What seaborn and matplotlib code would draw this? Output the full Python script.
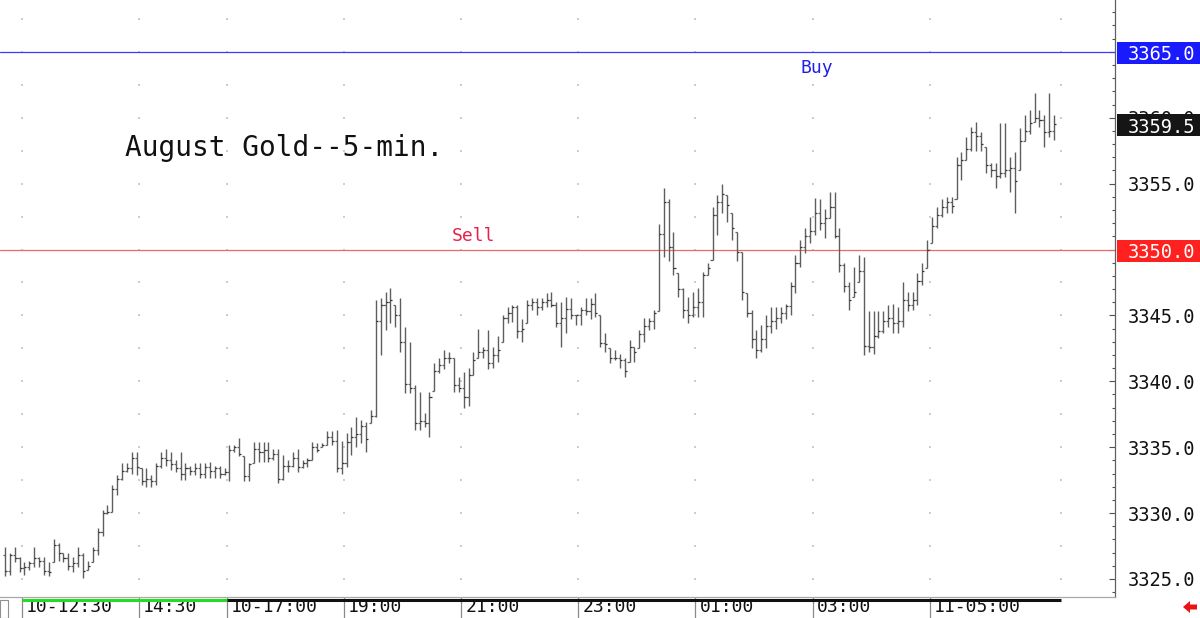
import numpy as np
import matplotlib
matplotlib.use("Agg")
import matplotlib.pyplot as plt
import matplotlib.transforms as mtransforms
from matplotlib.patches import Rectangle, Polygon
from matplotlib.ticker import MultipleLocator, FormatStrFormatter
import seaborn as sns

# 5-minute OHLC bars (216 bars, 12:10 -> 07:05)
high = [
    3327.4, 3327.0, 3327.4, 3326.7, 3326.3, 3326.4, 3327.4, 3326.7, 3326.7, 3326.3,
    3328.0, 3327.7, 3327.0, 3327.0, 3326.7, 3327.4, 3327.0, 3326.4, 3327.4, 3328.9,
    3330.2, 3330.6, 3332.1, 3332.9, 3333.8, 3333.8, 3334.6, 3334.6, 3333.4, 3333.4,
    3332.9, 3333.8, 3334.6, 3334.9, 3334.6, 3334.0, 3334.6, 3333.8, 3333.6, 3333.8,
    3333.8, 3333.8, 3333.9, 3333.6, 3333.6, 3333.4, 3335.2, 3335.2, 3335.7, 3334.3,
    3333.8, 3335.4, 3335.4, 3335.4, 3335.4, 3334.9, 3334.9, 3334.4, 3334.0, 3334.6,
    3334.9, 3334.0, 3334.2, 3335.4, 3335.3, 3335.3, 3336.2, 3336.2, 3336.3, 3335.5,
    3336.1, 3336.5, 3337.3, 3337.1, 3336.9, 3337.8, 3346.2, 3346.3, 3346.8, 3347.1,
    3345.8, 3346.3, 3344.1, 3343.0, 3339.7, 3339.2, 3337.6, 3339.2, 3341.4, 3341.8,
    3342.4, 3342.2, 3341.8, 3340.3, 3340.7, 3341.0, 3342.2, 3344.0, 3342.6, 3343.9,
    3342.6, 3343.4, 3345.0, 3345.6, 3345.8, 3345.8, 3344.7, 3346.2, 3346.3, 3346.3,
    3346.3, 3346.7, 3346.8, 3346.0, 3346.0, 3346.4, 3346.3, 3345.0, 3345.6, 3346.3,
    3346.3, 3346.7, 3345.0, 3343.7, 3342.5, 3342.4, 3342.1, 3341.8, 3343.1, 3342.6,
    3343.9, 3344.8, 3344.8, 3345.4, 3351.9, 3354.7, 3353.8, 3351.3, 3348.2, 3347.1,
    3346.4, 3346.8, 3347.1, 3348.3, 3349.0, 3353.2, 3354.1, 3355.0, 3354.1, 3352.8,
    3351.3, 3349.8, 3346.7, 3345.4, 3343.9, 3344.3, 3345.0, 3345.6, 3345.6, 3345.6,
    3345.9, 3347.5, 3349.6, 3350.7, 3351.6, 3352.5, 3353.9, 3353.8, 3353.1, 3354.4,
    3354.4, 3351.6, 3349.0, 3347.5, 3348.7, 3349.6, 3349.4, 3345.3, 3345.3, 3345.3,
    3345.3, 3345.8, 3345.9, 3345.6, 3347.5, 3346.8, 3346.8, 3348.2, 3349.0, 3350.7,
    3352.5, 3353.2, 3353.8, 3354.0, 3354.0, 3357.0, 3357.4, 3358.5, 3359.3, 3359.7,
    3358.9, 3357.8, 3356.6, 3356.6, 3359.6, 3359.6, 3357.0, 3357.4, 3359.2, 3360.2,
    3360.6, 3361.9, 3360.6, 3360.2, 3361.9, 3360.2]

low = [
    3325.2, 3325.3, 3326.3, 3325.5, 3325.3, 3325.7, 3325.9, 3325.9, 3325.3, 3325.2,
    3326.3, 3326.4, 3326.3, 3325.7, 3325.5, 3325.9, 3325.1, 3325.7, 3326.3, 3326.8,
    3328.3, 3329.9, 3330.1, 3331.4, 3332.5, 3333.1, 3333.0, 3332.9, 3332.1, 3332.0,
    3332.0, 3332.1, 3333.4, 3333.6, 3333.3, 3333.1, 3332.5, 3332.5, 3332.9, 3332.9,
    3332.7, 3332.7, 3332.7, 3332.7, 3332.7, 3332.9, 3332.4, 3334.6, 3334.3, 3332.4,
    3332.4, 3333.8, 3333.9, 3333.9, 3333.9, 3334.0, 3332.3, 3332.5, 3333.1, 3333.5,
    3333.1, 3333.4, 3333.5, 3334.0, 3334.6, 3335.0, 3335.2, 3335.2, 3333.1, 3333.0,
    3333.5, 3334.4, 3335.0, 3335.3, 3334.6, 3336.8, 3337.3, 3342.0, 3343.9, 3344.4,
    3344.1, 3342.2, 3339.1, 3339.1, 3336.3, 3336.3, 3336.5, 3335.8, 3339.3, 3340.6,
    3340.9, 3341.4, 3339.2, 3339.2, 3338.0, 3338.1, 3340.5, 3341.8, 3341.8, 3340.9,
    3341.0, 3341.5, 3343.0, 3344.4, 3344.5, 3343.3, 3343.0, 3344.4, 3345.4, 3345.0,
    3345.4, 3345.6, 3345.6, 3344.1, 3342.6, 3343.7, 3344.7, 3344.3, 3344.3, 3345.0,
    3344.7, 3344.9, 3342.6, 3342.2, 3341.4, 3341.6, 3341.0, 3340.3, 3341.5, 3341.5,
    3342.5, 3343.0, 3343.9, 3344.0, 3345.3, 3349.4, 3349.1, 3348.1, 3346.4, 3344.8,
    3344.4, 3344.9, 3344.9, 3344.9, 3348.1, 3349.2, 3351.1, 3352.8, 3352.1, 3350.7,
    3349.1, 3346.2, 3344.9, 3342.5, 3341.8, 3342.2, 3342.5, 3343.7, 3344.0, 3344.4,
    3344.7, 3345.0, 3346.7, 3348.7, 3349.7, 3350.5, 3351.1, 3351.5, 3350.9, 3352.4,
    3350.9, 3348.3, 3346.8, 3345.4, 3346.4, 3347.5, 3342.0, 3342.2, 3342.1, 3343.3,
    3343.7, 3344.1, 3343.7, 3343.7, 3344.1, 3345.3, 3345.4, 3345.8, 3347.3, 3348.6,
    3350.5, 3351.6, 3352.5, 3352.8, 3352.8, 3353.8, 3355.3, 3356.8, 3357.5, 3357.5,
    3357.5, 3355.8, 3355.5, 3354.7, 3355.4, 3355.5, 3354.4, 3352.8, 3356.0, 3358.2,
    3358.8, 3359.7, 3359.3, 3357.8, 3358.5, 3358.3]

close = [
    3325.6, 3326.8, 3326.6, 3325.8, 3325.9, 3326.2, 3326.6, 3326.4, 3325.6, 3325.5,
    3327.6, 3327.0, 3326.6, 3326.0, 3326.2, 3326.8, 3325.6, 3326.0, 3327.2, 3328.6,
    3330.0, 3330.1, 3331.8, 3332.6, 3333.2, 3333.4, 3334.2, 3333.5, 3332.4, 3332.6,
    3332.4, 3333.6, 3334.2, 3334.0, 3333.7, 3333.4, 3333.0, 3333.4, 3333.2, 3333.4,
    3333.0, 3333.5, 3333.2, 3333.4, 3333.0, 3333.1, 3334.8, 3335.0, 3334.5, 3332.8,
    3333.7, 3334.9, 3334.6, 3334.8, 3334.2, 3334.5, 3332.6, 3333.6, 3333.6, 3334.2,
    3333.5, 3333.8, 3334.0, 3335.0, 3334.8, 3335.2, 3335.8, 3335.5, 3333.4, 3333.8,
    3335.4, 3335.8, 3336.0, 3336.6, 3335.6, 3337.4, 3344.6, 3345.8, 3346.0, 3346.2,
    3345.0, 3343.0, 3339.8, 3339.5, 3336.8, 3337.0, 3336.8, 3338.8, 3340.8, 3341.2,
    3341.8, 3341.8, 3339.7, 3339.5, 3338.8, 3340.5, 3341.6, 3342.2, 3342.4, 3341.4,
    3342.0, 3342.4, 3344.8, 3345.2, 3345.6, 3343.8, 3344.0, 3345.8, 3346.0, 3345.6,
    3346.0, 3346.2, 3345.8, 3344.4, 3344.8, 3345.5, 3345.0, 3345.0, 3345.4, 3345.3,
    3345.9, 3345.2, 3342.9, 3342.8, 3341.8, 3341.8, 3341.6, 3340.8, 3342.6, 3342.2,
    3343.6, 3344.2, 3344.6, 3345.2, 3351.2, 3353.6, 3350.2, 3348.6, 3347.0, 3345.4,
    3345.0, 3345.6, 3346.0, 3348.1, 3348.6, 3352.6, 3353.6, 3354.2, 3353.4, 3351.6,
    3349.8, 3346.8, 3345.2, 3343.2, 3342.4, 3343.2, 3344.2, 3344.6, 3344.8, 3345.2,
    3345.7, 3347.2, 3349.0, 3350.2, 3351.0, 3351.4, 3352.8, 3352.0, 3352.4, 3353.2,
    3351.0, 3348.8, 3347.2, 3346.2, 3346.8, 3348.4, 3342.7, 3342.6, 3343.4, 3343.8,
    3344.6, 3344.8, 3344.4, 3344.6, 3346.2, 3345.8, 3346.2, 3347.6, 3348.4, 3350.0,
    3351.8, 3352.6, 3353.2, 3353.6, 3353.3, 3356.4, 3356.8, 3357.6, 3358.9, 3358.6,
    3358.0, 3356.4, 3356.0, 3355.6, 3355.8, 3356.0, 3356.2, 3355.2, 3358.2, 3359.0,
    3359.6, 3360.0, 3359.8, 3358.9, 3359.0, 3359.5]

first_open = 3326.8

# time axis: session separators (bar index) and their labels
sep_pos = [3.5, 27.5, 45.5, 69.5, 93.5, 117.5, 141.5, 165.5, 189.5]
sep_labels = ["10-12:30", "14:30", "10-17:00", "19:00", "21:00",
              "23:00", "01:00", "03:00", "11-05:00"]
session_break = 45.5
data_end = 216.5

# order levels
buy_level = 3365.0
sell_level = 3350.0
last_price = 3359.5

sns.set_theme(style="white")
plt.rcParams["font.family"] = ["DejaVu Sans Mono", "DejaVu Sans"]

W, H = 1200, 618
fig = plt.figure(figsize=(12, 6.18), dpi=100)
fig.patch.set_facecolor("white")
ax = fig.add_axes([0, 21 / H, 1115 / W, 597 / H])
ax.set_facecolor("white")

n = len(close)
idx = np.arange(n)
high = np.array(high)
low = np.array(low)
close = np.array(close)
opens = np.clip(np.concatenate([[first_open], close[:-1]]), low, high)

px_bar, x_first = 4.88, 4.9
ax.set_xlim(-x_first / px_bar, (1115 - x_first) / px_bar)
ax.set_ylim(3325 - 18 / 13.18, 3325 + 579 / 13.18)

# faint grid dots on the session separators
gx, gy = np.meshgrid(sep_pos + [data_end], np.arange(3325, 3368, 2.5))
ax.scatter(gx.ravel(), gy.ravel(), s=1.0, marker="s", color="#cdcdcd", lw=0, zorder=1)

# order lines
ax.axhline(buy_level, color="#3a3aff", lw=0.9, zorder=2)
ax.axhline(sell_level, color="#e86a6a", lw=0.9, zorder=2)

# OHLC bars
bar_col = "#5e5e5e"
ax.vlines(idx, low, high, color=bar_col, lw=1.0, zorder=3)
ax.hlines(opens, idx - 0.42, idx, color=bar_col, lw=0.9, zorder=3)
ax.hlines(close, idx, idx + 0.42, color="#333333", lw=0.9, zorder=3)

# right price axis
for s in ["top", "left"]:
    ax.spines[s].set_visible(False)
ax.spines["right"].set_color("#606060")
ax.spines["right"].set_linewidth(0.9)
ax.spines["bottom"].set_color("#a8a8a8")
ax.spines["bottom"].set_linewidth(0.9)
ax.yaxis.tick_right()
ax.yaxis.set_major_locator(MultipleLocator(5))
ax.yaxis.set_minor_locator(MultipleLocator(1))
ax.yaxis.set_major_formatter(FormatStrFormatter("%.1f"))
ax.tick_params(axis="y", which="both", direction="in", right=True, left=False,
               labelright=True, labelleft=False, color="#505050", width=0.8,
               labelsize=13.5, labelcolor="#111111", pad=9)
ax.tick_params(axis="y", which="major", length=4)
ax.tick_params(axis="y", which="minor", length=2)

# time axis labels
ax.set_xticks(sep_pos, sep_labels)
ax.tick_params(axis="x", length=0, pad=1, labelsize=13, labelcolor="#111111")
for lab in ax.get_xticklabels():
    lab.set_horizontalalignment("left")
    lab.set_transform(lab.get_transform() +
                      mtransforms.ScaledTranslation(4 / 100, 0, fig.dpi_scale_trans))

bt = mtransforms.blended_transform_factory(ax.transData, ax.transAxes)
ax.vlines(sep_pos, -21 / 597, 0, transform=bt, color="#8a8a8a", lw=0.9, clip_on=False)
yb = -2.5 / 597
ax.plot([sep_pos[0], session_break], [yb, yb], transform=bt, color="#22dd22",
        lw=2.2, solid_capstyle="butt", clip_on=False)
ax.plot([session_break, data_end], [yb, yb], transform=bt, color="#111111",
        lw=2.2, solid_capstyle="butt", clip_on=False)

# price boxes on the right axis
ft = mtransforms.blended_transform_factory(fig.transFigure, ax.transData)
for price, col in [(buy_level, "#1a1aff"), (sell_level, "#ff2020"), (last_price, "#151515")]:
    ax.add_patch(Rectangle((1117 / W, price - 0.92), 83 / W, 1.67, transform=ft,
                           facecolor=col, edgecolor="none", clip_on=False, zorder=5))
    ax.text(1127.5 / W, price - 0.08, "%.1f" % price, transform=ft, color="white",
            fontsize=13.5, ha="left", va="center_baseline", zorder=6, clip_on=False)

# annotations
fig.text(125 / W, 1 - 148 / H, "August Gold--5-min.", fontsize=20,
         color="#111111", ha="left", va="center")
fig.text(800 / W, 1 - 68 / H, "Buy", fontsize=13, color="#2020e6", ha="left", va="center")
fig.text(452 / W, 1 - 236 / H, "Sell", fontsize=13, color="#e8204a", ha="left", va="center")

# little widgets at the bottom corners
fig.patches.append(Rectangle((0, 0), 8 / W, 18 / H, transform=fig.transFigure,
                             fill=False, edgecolor="#909090", lw=0.8))
arrow = [(1183, 607), (1190, 601), (1190, 604.5), (1197, 604.5),
         (1197, 609.5), (1190, 609.5), (1190, 613)]
fig.patches.append(Polygon([(x / W, 1 - y / H) for x, y in arrow], closed=True,
                           transform=fig.transFigure, facecolor="#ee1111",
                           edgecolor="none"))

fig.savefig("out.png", dpi=100, facecolor="white")
